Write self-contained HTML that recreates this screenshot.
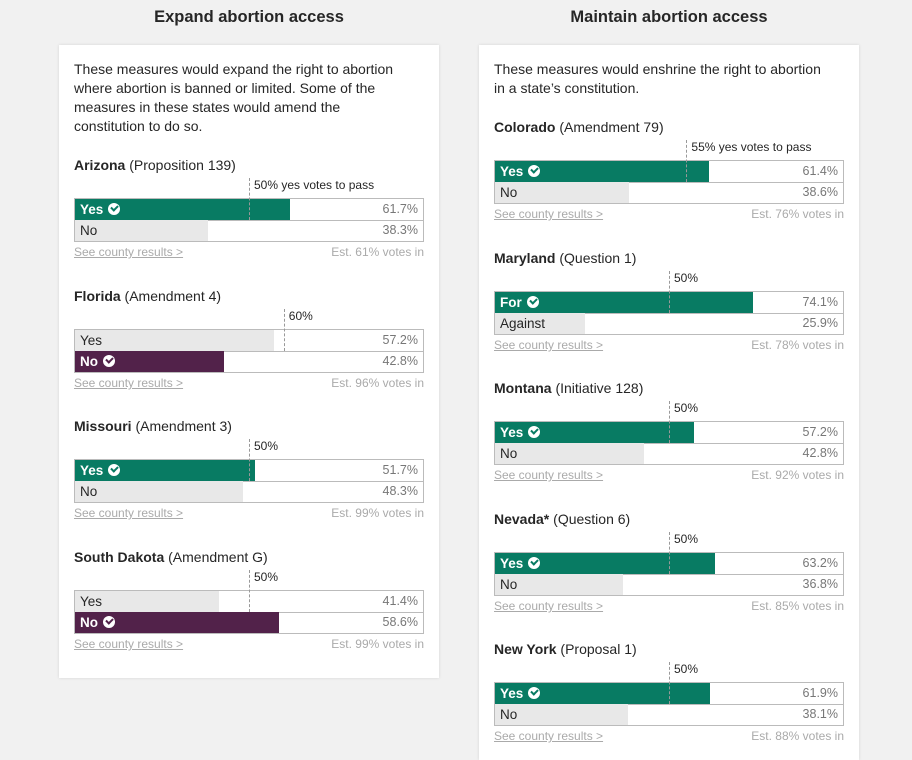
<!DOCTYPE html>
<html><head><meta charset="utf-8">
<style>
html,body{margin:0;width:912px;height:760px;overflow:hidden}
body{background:#f1f1f1;font-family:"Liberation Sans",sans-serif;position:relative;color:#262626}
.h{position:absolute;top:8px;font-weight:bold;font-size:16.5px;width:380px;text-align:center}
.card{position:absolute;background:#fff;width:380px;box-shadow:0 0 3px rgba(0,0,0,.12)}
.intro{position:absolute;left:15px;width:340px;font-size:14px;line-height:19px;top:15px}
.blk{position:absolute;left:15px;width:350px;height:110px}
.t{position:absolute;top:0;font-size:14px;line-height:18px;white-space:nowrap}
.t b{font-weight:bold}
.lab{position:absolute;top:21px;font-size:12px;line-height:16px;white-space:nowrap;padding-left:5px}
.tick{position:absolute;top:22px;height:42px;border-left:1px dashed #999}
.box{position:absolute;top:42px;left:0;width:348px;height:42px;border:1px solid #bbb}
.row{position:absolute;left:0;width:348px;height:21px}
.fill{position:absolute;left:0;top:0;height:21px}
.nm{position:absolute;left:5px;top:0;line-height:21px;font-size:13.5px}
.pct{position:absolute;right:5px;top:0;line-height:21px;font-size:12.5px;color:#777}
.lk{position:absolute;top:89px;left:0;font-size:12px;color:#aaa;text-decoration:underline}
.est{position:absolute;top:89px;right:0;font-size:12px;color:#aaa}
.ck{display:inline-block;width:12px;height:12px;border-radius:50%;background:#fff;vertical-align:-1px;margin-left:5px;position:relative}
.ck:after{content:"";position:absolute;left:3px;top:2px;width:5px;height:3px;border-left:2px solid;border-bottom:2px solid;border-color:inherit;transform:rotate(-45deg)}
</style></head><body>
<div class="h" style="left:59px">Expand abortion access</div>
<div class="h" style="left:479px">Maintain abortion access</div>
<div class="card" id="c1" style="left:59px;top:45px;height:633px">
<div class="intro">These measures would expand the right to abortion where abortion is banned or limited. Some of the measures in these states would amend the constitution to do so.</div></div>
<div class="card" id="c2" style="left:479px;top:45px;height:715px">
<div class="intro">These measures would enshrine the right to abortion in a state’s constitution.</div></div>
<script>
const states=["Arizona","Florida","Missouri","South Dakota","Colorado","Maryland","Montana","Nevada*","New York"];
const measures=["Proposition 139","Amendment 4","Amendment 3","Amendment G","Amendment 79","Question 1","Initiative 128","Question 6","Proposal 1"];
const yesLabels=["Yes","Yes","Yes","Yes","Yes","For","Yes","Yes","Yes"];
const noLabels=["No","No","No","No","No","Against","No","No","No"];
const yesPct=[61.7,57.2,51.7,41.4,61.4,74.1,57.2,63.2,61.9];
const noPct=[38.3,42.8,48.3,58.6,38.6,25.9,42.8,36.8,38.1];
const thresholds=[50,60,50,50,55,50,50,50,50];
const thresholdText=["50% yes votes to pass","60%","50%","50%","55% yes votes to pass","50%","50%","50%","50%"];
const votesIn=[61,96,99,99,76,78,92,85,88];
const cardOf=[1,1,1,1,2,2,2,2,2];
const tops=[111,242,372,503,73,204,334,465,595];
const W=348;
const x=v=>v/100*W;
states.forEach((s,i)=>{
  const card=document.getElementById('c'+cardOf[i]);
  const b=document.createElement('div');b.className='blk';b.style.top=tops[i]+'px';
  
  
  const yesWon=yesPct[i]>=thresholds[i];
  const win=yesWon?'#087b63':'#52224a';
  const row=(lab,p,won,top,key)=>{
    const bg=won?win:'#e8e8e8';
    return `<div class="row" style="top:${top}px"><div class="fill" style="width:${x(p)}px;background:${bg}"></div><span class="nm" style="${won?'color:#fff;font-weight:bold':''}">${lab}${won?`<span class="ck" style="border-color:${bg}"></span>`:''}</span><span class="pct">${p.toFixed(1)}%</span></div>`;
  };
  b.innerHTML=`<div class="t"><b>${s}</b> (${measures[i]})</div>
  <div class="lab" style="left:${x(thresholds[i])+1}px">${thresholdText[i]}</div>
  <div class="box">${row(yesLabels[i],yesPct[i],yesWon,0,'yes')}<div style="position:absolute;left:0;top:21px;width:348px;border-top:1px solid #bbb"></div>${row(noLabels[i],noPct[i],!yesWon,21,'no')}</div>
  <div class="tick" style="left:${x(thresholds[i])+1}px"></div>
  <a class="lk">See county results &gt;</a>
  <div class="est">Est. ${votesIn[i]}% votes in</div>`;
  card.appendChild(b);
});
</script>
</body></html>
